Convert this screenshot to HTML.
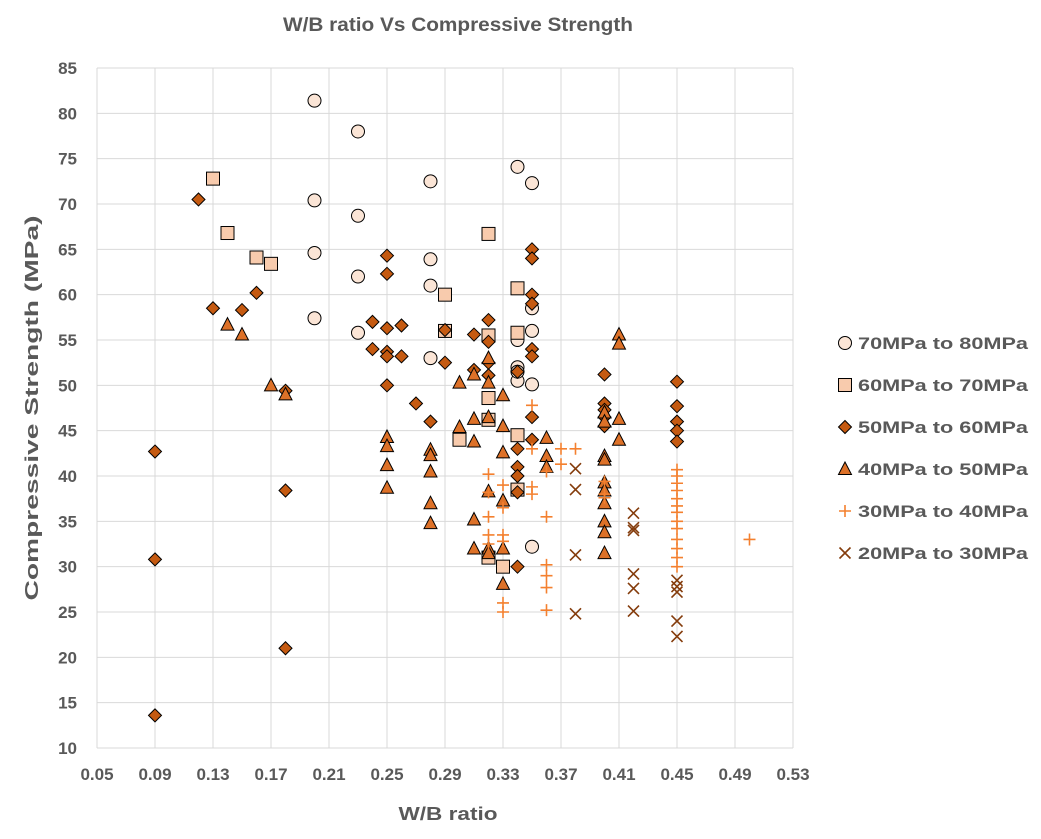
<!DOCTYPE html>
<html><head><meta charset="utf-8"><style>
body{margin:0;background:#fff;}
svg text{font-family:"Liberation Sans",sans-serif;font-weight:bold;fill:#595959;}
</style></head><body>
<svg id="chart" width="1041" height="834">
<text x="458" y="31" text-anchor="middle" font-size="19" textLength="350" lengthAdjust="spacingAndGlyphs">W/B ratio Vs Compressive Strength</text>
<g id="grid"></g><g id="ticks"></g><g id="marks"></g><g id="legend"></g>
<text x="448" y="820" text-anchor="middle" font-size="18" textLength="99" lengthAdjust="spacingAndGlyphs">W/B ratio</text>
<text transform="translate(38,408) rotate(-90)" text-anchor="middle" font-size="18" textLength="385" lengthAdjust="spacingAndGlyphs">Compressive Strength (MPa)</text>
</svg>
<script>
const xTicks=[0.05,0.09,0.13,0.17,0.21,0.25,0.29,0.33,0.37,0.41,0.45,0.49,0.53];
const yTicks=[10,15,20,25,30,35,40,45,50,55,60,65,70,75,80,85];
const seriesNames=["70MPa to 80MPa","60MPa to 70MPa","50MPa to 60MPa","40MPa to 50MPa","30MPa to 40MPa","20MPa to 30MPa"];
const s70=[[0.20,81.4],[0.23,78],[0.28,72.5],[0.34,74.1],[0.35,72.3],[0.20,70.4],[0.23,68.7],[0.20,64.6],[0.23,62],[0.28,63.9],[0.28,61],[0.20,57.4],[0.23,55.8],[0.28,53],[0.34,55],[0.34,52],[0.34,50.5],[0.35,58.5],[0.35,56],[0.35,50.1],[0.35,32.2],[0.34,51.5]];
const s60=[[0.13,72.8],[0.14,66.8],[0.16,64.1],[0.17,63.4],[0.29,60],[0.29,56],[0.32,66.7],[0.34,60.7],[0.32,55.5],[0.34,55.8],[0.32,48.6],[0.30,44],[0.32,46.2],[0.34,44.5],[0.34,38.5],[0.32,31],[0.33,30]];
const s50=[[0.09,42.7],[0.09,30.8],[0.09,13.6],[0.12,70.5],[0.13,58.5],[0.15,58.3],[0.16,60.2],[0.18,49.4],[0.18,38.4],[0.18,21],[0.24,57],[0.24,54],[0.25,64.3],[0.25,62.3],[0.25,56.3],[0.25,53.7],[0.25,53.2],[0.25,50],[0.26,56.6],[0.26,53.2],[0.27,48],[0.28,46],[0.29,56.1],[0.29,52.5],[0.31,55.6],[0.31,51.7],[0.32,57.2],[0.32,54.8],[0.32,52.5],[0.32,51.1],[0.34,51.5],[0.34,43],[0.34,41],[0.34,40],[0.34,38.2],[0.34,30],[0.35,65],[0.35,64],[0.35,60],[0.35,59],[0.35,54],[0.35,53.2],[0.35,46.5],[0.35,44],[0.40,51.2],[0.40,48],[0.40,47.3],[0.40,46.5],[0.40,45.5],[0.45,50.4],[0.45,47.7],[0.45,46],[0.45,45],[0.45,43.8]];
const s40=[[0.14,56.7],[0.15,55.6],[0.17,50],[0.18,49],[0.25,44.3],[0.25,43.3],[0.25,41.2],[0.25,38.7],[0.28,42.9],[0.28,42.3],[0.28,40.5],[0.28,37],[0.28,34.8],[0.30,50.3],[0.30,45.4],[0.31,51.2],[0.31,46.3],[0.31,43.8],[0.31,35.2],[0.31,32],[0.32,53],[0.32,50.3],[0.32,46.5],[0.32,38.3],[0.32,32],[0.32,31.5],[0.33,48.9],[0.33,45.5],[0.33,42.6],[0.33,37.3],[0.33,32],[0.33,28.1],[0.36,44.2],[0.36,42.2],[0.36,41],[0.40,47],[0.40,46],[0.40,42.2],[0.40,41.8],[0.40,39.3],[0.40,38.4],[0.40,37],[0.40,35],[0.40,33.8],[0.40,31.5],[0.41,55.6],[0.41,54.6],[0.41,46.3],[0.41,44]];
const s30=[[0.32,40.2],[0.32,38.2],[0.32,35.5],[0.32,33.5],[0.32,32.5],[0.33,39],[0.33,36.5],[0.33,33.5],[0.33,32.8],[0.33,26],[0.33,25],[0.35,47.8],[0.35,43],[0.35,38.8],[0.35,38],[0.36,35.5],[0.36,30.2],[0.36,29],[0.36,27.7],[0.36,25.2],[0.36,40.5],[0.37,43],[0.37,41.3],[0.38,43],[0.40,39.4],[0.40,38],[0.40,37.6],[0.45,40.7],[0.45,40],[0.45,39.2],[0.45,38.4],[0.45,37.5],[0.45,36.7],[0.45,36],[0.45,35],[0.45,34.2],[0.45,33],[0.45,32],[0.45,31],[0.45,30],[0.50,33]];
const s20=[[0.38,40.8],[0.38,38.5],[0.38,31.3],[0.38,24.8],[0.42,35.9],[0.42,34.3],[0.42,34],[0.42,29.2],[0.42,27.6],[0.42,25.1],[0.45,28.5],[0.45,27.8],[0.45,27.2],[0.45,24],[0.45,22.3]];

const NS="http://www.w3.org/2000/svg";
const X0=97,X1=793,Y0=748,Y1=68;
const xs=v=>X0+(v-0.05)/(0.53-0.05)*(X1-X0);
const ys=v=>Y0-(v-10)/(85-10)*(Y0-Y1);
function mk(t,a,p){const e=document.createElementNS(NS,t);for(const k in a)e.setAttribute(k,a[k]);p.appendChild(e);return e;}
const grid=document.getElementById('grid'),ticks=document.getElementById('ticks');
xTicks.forEach(v=>{const l=mk('line',{x1:xs(v),x2:xs(v),y1:Y1,y2:Y0,stroke:'#d9d9d9'},grid);

const t=mk('text',{x:xs(v),y:Y0+32,'text-anchor':'middle','font-size':17},ticks);t.textContent=v.toFixed(2);
});
yTicks.forEach(v=>{const l=mk('line',{x1:X0,x2:X1,y1:ys(v),y2:ys(v),stroke:'#d9d9d9'},grid);

const t=mk('text',{x:X0-20,y:ys(v)+6,'text-anchor':'end','font-size':17},ticks);t.textContent=v;
});
function marker(type,cx,cy,p){
 let e;
 if(type==0)e=mk('circle',{cx,cy,r:6.5,fill:'#fbe5d6',stroke:'#000','stroke-width':1},p);
 else if(type==1)e=mk('rect',{x:cx-6.5,y:cy-6.5,width:13,height:13,fill:'#f8cbad',stroke:'#000','stroke-width':1},p);
 else if(type==2)e=mk('path',{d:`M${cx} ${cy-6.5}L${cx+6.5} ${cy}L${cx} ${cy+6.5}L${cx-6.5} ${cy}Z`,fill:'#c55a11',stroke:'#000','stroke-width':1},p);
 else if(type==3)e=mk('path',{d:`M${cx} ${cy-7}L${cx+6.5} ${cy+5.5}L${cx-6.5} ${cy+5.5}Z`,fill:'#dd7128',stroke:'#000','stroke-width':1},p);
 else if(type==4)e=mk('path',{d:`M${cx-6} ${cy}H${cx+6}M${cx} ${cy-6}V${cy+6}`,stroke:'#f4802f','stroke-width':1.6,fill:'none'},p);
 else e=mk('path',{d:`M${cx-5.5} ${cy-5.5}L${cx+5.5} ${cy+5.5}M${cx+5.5} ${cy-5.5}L${cx-5.5} ${cy+5.5}`,stroke:'#843c0c','stroke-width':1.6,fill:'none'},p);
 return e;}
const marks=document.getElementById('marks');
const all=[s70,s60,s50,s40,s30,s20];
const names=['point-70-80','point-60-70','point-50-60','point-40-50','point-30-40','point-20-30'];
all.forEach((s,i)=>s.forEach(d=>{const e=marker(i,xs(d[0]),ys(d[1]),marks);

}));
const lg=document.getElementById('legend');
seriesNames.forEach((n,i)=>{const y=343+i*42;
const g=mk('g',{},lg);


marker(i,845,y,g);const t=mk('text',{x:858,y:y+6,'font-size':17,textLength:170,lengthAdjust:'spacingAndGlyphs'},g);t.textContent=n;});
</script>
</body></html>
